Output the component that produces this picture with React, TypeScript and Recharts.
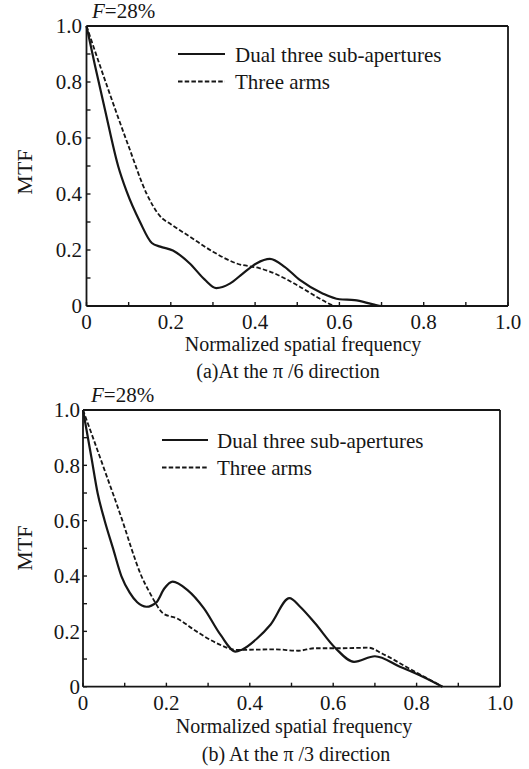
import React from 'react';
import { LineChart, Line, XAxis, YAxis, Legend } from 'recharts';

// (a) pi/6 direction
const freqA_dual = [0, 0.02, 0.044, 0.075, 0.095, 0.127, 0.155, 0.175, 0.205, 0.245, 0.28, 0.308, 0.34, 0.37, 0.403, 0.435, 0.47, 0.506, 0.56, 0.6, 0.636, 0.68, 0.7, 0.75];
const mtfA_dual = [1, 0.86, 0.7, 0.5, 0.41, 0.3, 0.225, 0.212, 0.198, 0.152, 0.095, 0.064, 0.08, 0.115, 0.152, 0.168, 0.14, 0.093, 0.045, 0.024, 0.021, 0.006, 0, 0];
const freqA_arms = [0, 0.05, 0.1, 0.143, 0.175, 0.2, 0.245, 0.3, 0.356, 0.41, 0.435, 0.506, 0.553, 0.593, 0.65];
const mtfA_arms = [1, 0.78, 0.57, 0.4, 0.32, 0.292, 0.248, 0.194, 0.152, 0.135, 0.123, 0.069, 0.027, 0, 0];

// (b) pi/3 direction
const freqB_dual = [0, 0.02, 0.035, 0.052, 0.072, 0.092, 0.112, 0.13, 0.152, 0.176, 0.195, 0.215, 0.25, 0.29, 0.33, 0.366, 0.38, 0.418, 0.45, 0.495, 0.52, 0.556, 0.605, 0.65, 0.7, 0.76, 0.815, 0.862];
const mtfB_dual = [1, 0.83, 0.7, 0.6, 0.5, 0.4, 0.34, 0.305, 0.289, 0.305, 0.355, 0.38, 0.35, 0.283, 0.187, 0.127, 0.133, 0.175, 0.225, 0.32, 0.29, 0.23, 0.14, 0.09, 0.11, 0.072, 0.036, 0];
const freqB_arms = [0, 0.05, 0.1, 0.116, 0.14, 0.16, 0.172, 0.192, 0.225, 0.273, 0.321, 0.37, 0.46, 0.516, 0.556, 0.621, 0.685, 0.717, 0.782, 0.862];
const mtfB_arms = [1, 0.79, 0.575, 0.5, 0.4, 0.34, 0.307, 0.265, 0.247, 0.199, 0.157, 0.133, 0.135, 0.13, 0.139, 0.139, 0.141, 0.12, 0.066, 0];

const tickVals = [0, 0.1, 0.2, 0.3, 0.4, 0.5, 0.6, 0.7, 0.8, 0.9, 1.0];
const tickLabels = ['0', '', '0.2', '', '0.4', '', '0.6', '', '0.8', '', '1.0'];
const seriesNames = ['Dual three sub-apertures', 'Three arms'];
const xTitle = 'Normalized spatial frequency';
const yTitle = 'MTF';
const captions = ['(a)At the \u03c0 /6 direction', '(b) At the \u03c0 /3 direction'];

const FONT = "'Liberation Serif', 'Times New Roman', serif";
const INK = '#161616';
const DASH = '4.5 2.2';

const toPoints = (xs: number[], ys: number[]) => xs.map((x, i) => ({ x, y: ys[i] }));
const fmtTick = (v: number) => tickLabels[Math.round(v * 10)] ?? '';

const makeLegend = (g: { x1: number; x2: number; tx: number; y0: number; dy: number }) => (props: any) => {
  const items = (props.payload || []).filter((it: any) => seriesNames.includes(it.value));
  return (
    <svg width={529} height={130} style={{ display: 'block' }}>
      {items.map((it: any, i: number) => {
        const y = g.y0 + i * g.dy;
        const dashed = i === 1;
        return (
          <g key={i}>
            <line x1={g.x1} x2={g.x2} y1={y} y2={y} stroke={INK} strokeWidth={dashed ? 1.8 : 2.2} strokeDasharray={dashed ? DASH : undefined} />
            <text x={g.tx} y={y + 7.5} fontSize={21} fontFamily={FONT} fill={INK}>{it.value}</text>
          </g>
        );
      })}
    </svg>
  );
};

interface PanelProps {
  top: number;
  margin: { top: number; right: number; bottom: number; left: number };
  dual: { x: number; y: number }[];
  arms: { x: number; y: number }[];
  legend: { x1: number; x2: number; tx: number; y0: number; dy: number };
  yGap: number;
}

const Panel = ({ top, margin, dual, arms, legend, yGap }: PanelProps) => {
  const axisCommon = {
    stroke: INK,
    strokeWidth: 1.8,
    tickSize: -4,
    tickLine: { stroke: INK, strokeWidth: 1.4 },
  };
  const tickStyle = { fill: INK, fontSize: 21, fontFamily: FONT };
  return (
    <div style={{ position: 'absolute', left: 0, top }}>
      <LineChart width={529} height={340} margin={margin}>
        <XAxis xAxisId="b" type="number" dataKey="x" domain={[0, 1]} ticks={tickVals} interval={0}
          tickFormatter={fmtTick} height={30} tickMargin={12} tick={tickStyle} {...axisCommon} />
        <XAxis xAxisId="t" type="number" dataKey="x" orientation="top" domain={[0, 1]} ticks={tickVals} interval={0}
          height={1} tick={false} {...axisCommon} />
        <YAxis yAxisId="l" type="number" domain={[0, 1]} ticks={tickVals} interval={0}
          tickFormatter={fmtTick} width={60} tickMargin={yGap} tick={tickStyle} {...axisCommon} />
        <YAxis yAxisId="r" type="number" orientation="right" domain={[0, 1]} ticks={tickVals} interval={0}
          width={1} tick={false} {...axisCommon} />
        <Line xAxisId="b" yAxisId="l" data={dual} dataKey="y" name={seriesNames[0]} type="monotone"
          stroke={INK} strokeWidth={2.2} dot={false} isAnimationActive={false} />
        <Line xAxisId="b" yAxisId="l" data={arms} dataKey="y" name={seriesNames[1]} type="monotone"
          stroke={INK} strokeWidth={1.8} strokeDasharray={DASH} dot={false} isAnimationActive={false} />
        {/* carries the top/right frame axes, draws nothing */}
        <Line xAxisId="t" yAxisId="r" data={dual} dataKey="y" name="frame" stroke="none"
          legendType="none" dot={false} activeDot={false} isAnimationActive={false} />
        <Legend layout="vertical" align="center" verticalAlign="middle" content={makeLegend(legend)}
          wrapperStyle={{ left: 0, top: 0, width: 529, height: 130 }} />
      </LineChart>
    </div>
  );
};

export default function App() {
  const textStyle = { fontFamily: FONT, fill: INK } as const;
  return (
    <div style={{ position: 'absolute', left: 0, top: 0, width: 529, height: 769, background: '#fff', overflow: 'hidden' }}>
      <Panel
        top={0}
        margin={{ top: 25, right: 20, bottom: 4, left: 26.5 }}
        dual={toPoints(freqA_dual, mtfA_dual)}
        arms={toPoints(freqA_arms, mtfA_arms)}
        legend={{ x1: 178, x2: 225, tx: 235, y0: 54, dy: 27.5 }}
        yGap={8.5}
      />
      <Panel
        top={380}
        margin={{ top: 29, right: 28, bottom: 3.3, left: 23 }}
        dual={toPoints(freqB_dual, mtfB_dual)}
        arms={toPoints(freqB_arms, mtfB_arms)}
        legend={{ x1: 162, x2: 208, tx: 217, y0: 60, dy: 27.5 }}
        yGap={7}
      />
      <svg width={529} height={769} style={{ position: 'absolute', left: 0, top: 0, pointerEvents: 'none' }}>
        <text x={92} y={18} fontSize={21} {...textStyle}><tspan fontStyle="italic">F</tspan>=28%</text>
        <text x={91} y={402} fontSize={21} {...textStyle}><tspan fontStyle="italic">F</tspan>=28%</text>
        <text x={32} y={172} fontSize={22} textAnchor="middle" transform="rotate(-90 32 172)" {...textStyle}>{yTitle}</text>
        <text x={32} y={548} fontSize={22} textAnchor="middle" transform="rotate(-90 32 548)" {...textStyle}>{yTitle}</text>
        <text x={303} y={351} fontSize={20} textAnchor="middle" {...textStyle}>{xTitle}</text>
        <text x={294} y={733} fontSize={20} textAnchor="middle" {...textStyle}>{xTitle}</text>
        <text x={288} y={378} fontSize={20} textAnchor="middle" {...textStyle}>{captions[0]}</text>
        <text x={296} y={761} fontSize={20} textAnchor="middle" {...textStyle}>{captions[1]}</text>
      </svg>
    </div>
  );
}
